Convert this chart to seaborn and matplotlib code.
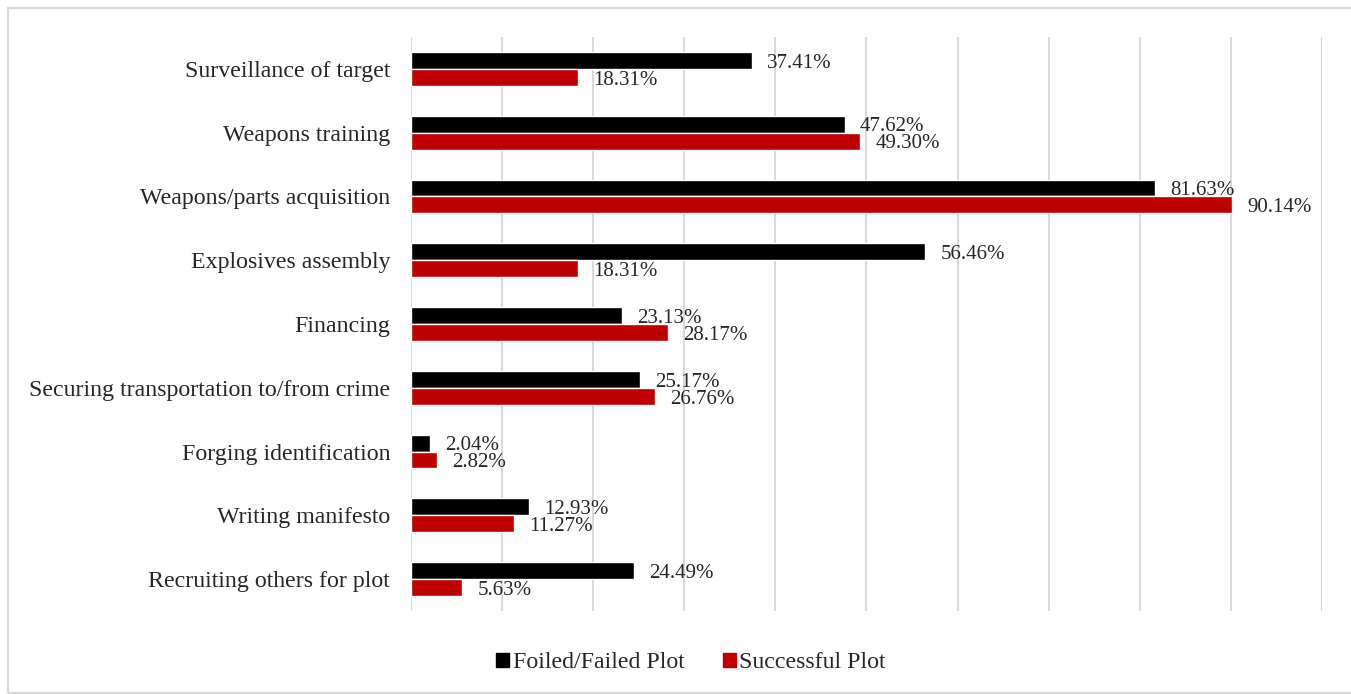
import matplotlib
matplotlib.use("Agg")
import matplotlib.pyplot as plt
import matplotlib.patches as mpatches
import pandas as pd
import seaborn as sns

# Data
categories = [
    "Surveillance of target",
    "Weapons training",
    "Weapons/parts acquisition",
    "Explosives assembly",
    "Financing",
    "Securing transportation to/from crime",
    "Forging identification",
    "Writing manifesto",
    "Recruiting others for plot",
]
series_names = ["Foiled/Failed Plot", "Successful Plot"]
foiled = [37.41, 47.62, 81.63, 56.46, 23.13, 25.17, 2.04, 12.93, 24.49]
successful = [18.31, 49.30, 90.14, 18.31, 28.17, 26.76, 2.82, 11.27, 5.63]

colors = {"Foiled/Failed Plot": "#000000", "Successful Plot": "#C00000"}

df = pd.DataFrame({
    "Activity": categories * 2,
    "Plot": [series_names[0]] * len(foiled) + [series_names[1]] * len(successful),
    "Percent": foiled + successful,
})

sns.set_style("white")
plt.rcParams["font.family"] = ["Liberation Serif", "DejaVu Serif"]

fig = plt.figure(figsize=(13.51, 6.94), dpi=100)
ax = fig.add_axes([0.3042, 0.1196, 0.6743, 0.8271])

sns.barplot(
    data=df, x="Percent", y="Activity", hue="Plot",
    order=categories, hue_order=series_names, palette=colors,
    orient="h", width=0.53, ax=ax, legend=False, saturation=1,
)

for container in ax.containers:
    labels = ax.bar_label(container, fmt="%.2f%%", padding=11, fontsize=15)
    for t in labels:
        t.xyann = (11, -2)  # nudge down a touch, like the reference

ax.set_xlim(0, 100)
ax.set_xticks(range(0, 101, 10))
ax.set_xticklabels([])
ax.grid(axis="x", color="#d9d9d9", linewidth=1.5)
ax.set_axisbelow(True)
ax.tick_params(axis="both", length=0)
ax.tick_params(axis="y", labelsize=17.2, pad=15)
ax.set_xlabel("")
ax.set_ylabel("")
sns.despine(ax=ax, left=True, bottom=True)

# legend at bottom
handles = [mpatches.Patch(color=colors[n], label=n) for n in series_names]
fig.legend(handles=handles, loc="center", bbox_to_anchor=(0.5115, 0.045),
           ncol=2, frameon=False, fontsize=17.2, handlelength=0.55,
           handleheight=0.55, handletextpad=0.15, columnspacing=1.6)

# chart border, running off the right edge
border = mpatches.Rectangle((0.0059, 0.0014), 1.05, 0.9871, transform=fig.transFigure,
                            fill=False, edgecolor="#d9d9d9", linewidth=1.5)
fig.patches.append(border)

fig.savefig("out.png", dpi=100, facecolor="white")
plt.close(fig)
